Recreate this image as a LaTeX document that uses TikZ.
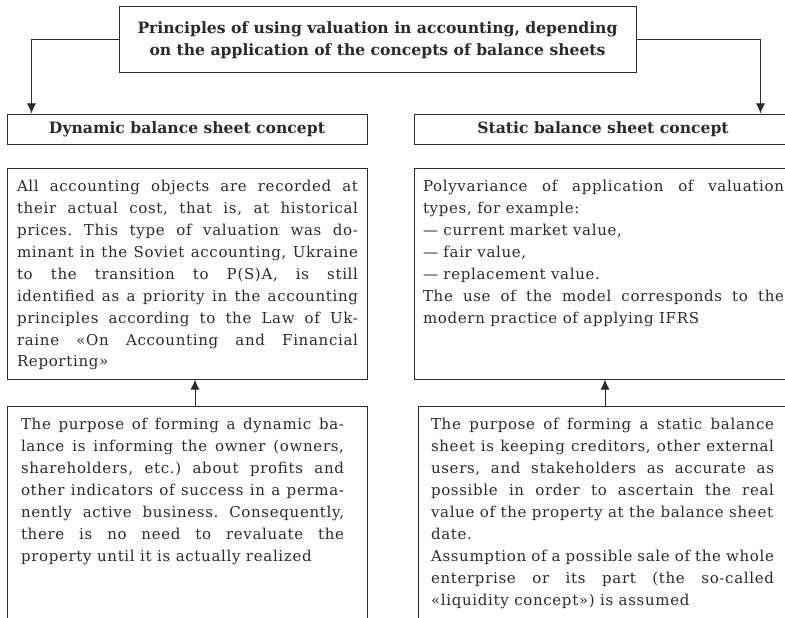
\documentclass[tikz,border=0pt]{standalone}
\usepackage{fontspec}
\setmainfont{DejaVu Serif}[LetterSpace=4.5]
\newfontfamily\headfont{DejaVu Serif}
\usetikzlibrary{arrows.meta,positioning}
\definecolor{ink}{HTML}{2A2A2A}

% text block of a box: height, width, left gap, right gap, text
\newcommand{\boxtext}[5]{\parbox[t][#1][t]{#2}{\frenchspacing\leftskip=#3\rightskip=#4\tolerance=10000\rule{0pt}{23pt}#5}}

\begin{document}
\begin{tikzpicture}[>={Latex[length=10pt,width=9pt]},x=1pt,y=-1pt,line width=1pt,draw=ink,text=ink,
                    head box/.style={rectangle,draw,inner sep=0pt,align=center,font=\headfont\bfseries\fontsize{15.6}{22}\selectfont},
                    text box/.style={rectangle,draw,inner sep=0pt,font=\fontsize{15}{22}\selectfont}]
  \clip (0,0) rectangle (785,618);
  \node[head box,minimum width=517pt,minimum height=66pt] (principles) at (377.5,40)
    {Principles of using valuation in accounting, depending\\on the application of the concepts of balance sheets};
  \node[head box,minimum width=360pt,minimum height=30pt] (dynamic) at (187,129) {Dynamic balance sheet concept};
  \node[head box,minimum width=378pt,minimum height=30pt] (static) [right=46pt of dynamic] {Static balance sheet concept};
  \node[text box] (dynvalue) [below=23pt of dynamic] {\boxtext{211pt}{360pt}{10pt}{9pt}{%
    All accounting objects are recorded at\linebreak
    their actual cost, that is, at historical\linebreak
    prices. This type of valuation was do-\linebreak
    minant in the Soviet accounting, Ukraine\linebreak
    to the transition to P(S)A, is still\linebreak
    identified as a priority in the accounting\linebreak
    principles according to the Law of Uk-\linebreak
    raine «On Accounting and Financial\linebreak
    Reporting»}};
  \node[text box] (statvalue) [below=23pt of static] {\boxtext{211pt}{378pt}{9pt}{8pt}{%
    Polyvariance of application of valuation\linebreak
    types, for example:\\
    — current market value,\\
    — fair value,\\
    — replacement value.\\
    The use of the model corresponds to the\linebreak
    modern practice of applying IFRS}};
  \node[text box] (dynwhy) [below=26pt of dynvalue] {\boxtext{240pt}{360pt}{14pt}{23pt}{%
    The purpose of forming a dynamic ba-\linebreak
    lance is informing the owner (owners,\linebreak
    shareholders, etc.) about profits and\linebreak
    other indicators of success in a perma-\linebreak
    nently active business. Consequently,\linebreak
    there is no need to revaluate the\linebreak
    property until it is actually realized}};
  \node[text box] (statwhy) [below=26pt of statvalue,xshift=2pt] {\boxtext{240pt}{374pt}{13pt}{18pt}{%
    The purpose of forming a static balance\linebreak
    sheet is keeping creditors, other external\linebreak
    users, and stakeholders as accurate as\linebreak
    possible in order to ascertain the real\linebreak
    value of the property at the balance sheet\\
    date.\\
    Assumption of a possible sale of the whole\linebreak
    enterprise or its part (the so-called\linebreak
    «liquidity concept») is assumed}};
  \coordinate (dyntip) at ([xshift=25pt]dynamic.north west);
  \coordinate (stattip) at ([xshift=-32pt]static.north east);
  \draw[->] (principles.west) -| (dyntip);
  \draw[->] (principles.east) -| (stattip);
  \draw[->] ([xshift=8pt]dynwhy.north) -- ([xshift=8pt]dynvalue.south);
  \draw[->] (statwhy.north) -- (statwhy.north |- statvalue.south);
\end{tikzpicture}
\end{document}
